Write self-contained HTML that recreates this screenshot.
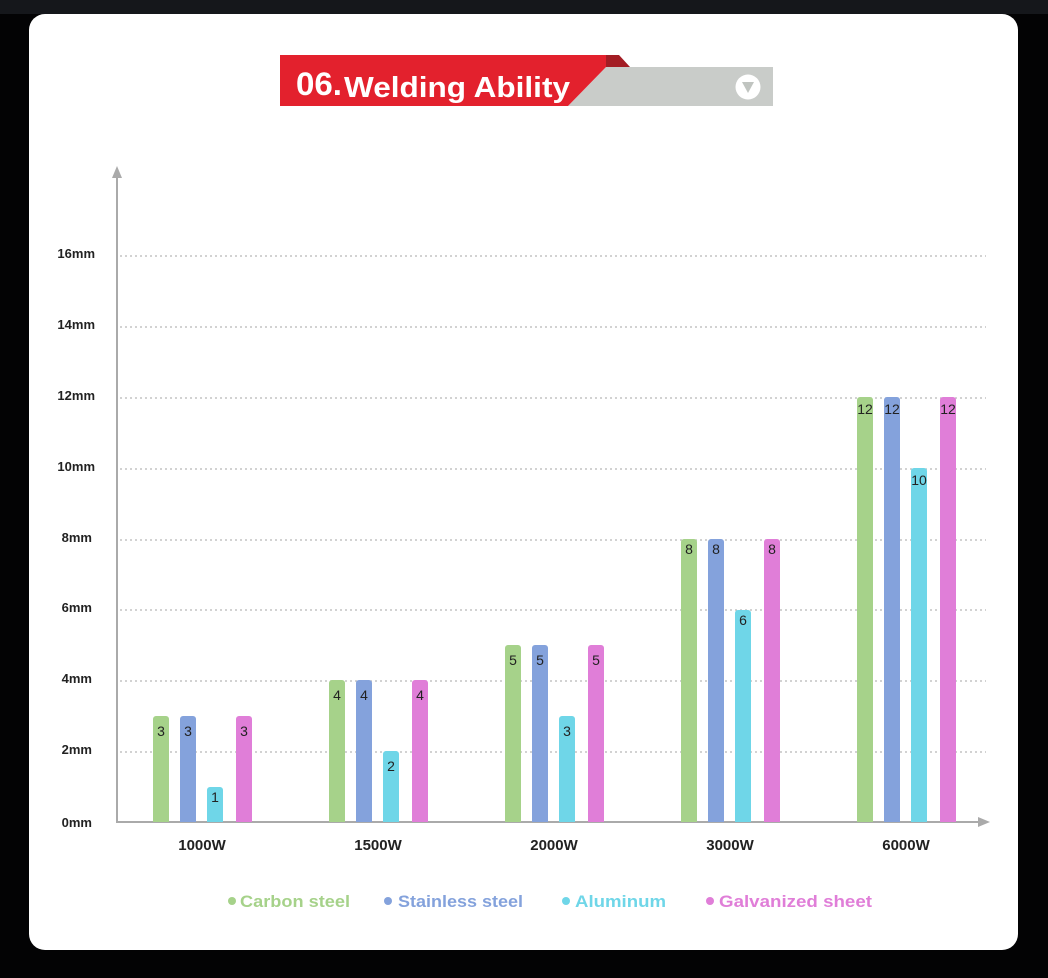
<!DOCTYPE html>
<html><head><meta charset="utf-8"><style>
html,body{margin:0;padding:0;background:#000;width:1048px;height:978px;overflow:hidden}
svg{display:block}
</style></head><body>
<svg width="1048" height="978" xmlns="http://www.w3.org/2000/svg" font-family="Liberation Sans, sans-serif">
<rect x="0" y="0" width="1048" height="978" fill="#030304"/>
<rect x="0" y="0" width="1048" height="14" fill="#15171b"/>
<rect x="29" y="14" width="989" height="936" rx="16" fill="#fff"/>
<!-- header -->
<polygon points="606,67 773,67 773,106 568,106" fill="#c9ccc9"/>
<polygon points="280,55 619,55 606,67 568,106 280,106" fill="#e3212d"/>
<polygon points="606,55 619,55 630,67 606,67" fill="#a31d24"/>
<text x="296" y="95" font-size="32" font-weight="bold" fill="#fff" textLength="46" lengthAdjust="spacingAndGlyphs">06.</text>
<text x="344" y="97" font-size="29" font-weight="bold" fill="#fff" textLength="226" lengthAdjust="spacingAndGlyphs">Welding Ability</text>
<circle cx="748" cy="87" r="12.5" fill="#fff"/>
<polygon points="742,82 754,82 748,93" fill="#c0c4c0"/>
<!-- grid -->
<g stroke="#b8b8b8" stroke-width="1.2" stroke-dasharray="2,3">
<line x1="120" y1="256" x2="986" y2="256"/>
<line x1="120" y1="327" x2="986" y2="327"/>
<line x1="120" y1="398" x2="986" y2="398"/>
<line x1="120" y1="469" x2="986" y2="469"/>
<line x1="120" y1="540" x2="986" y2="540"/>
<line x1="120" y1="610" x2="986" y2="610"/>
<line x1="120" y1="681" x2="986" y2="681"/>
<line x1="120" y1="752" x2="986" y2="752"/>
</g>
<g font-size="13" font-weight="bold" fill="#222" text-anchor="end">
<text x="95" y="258">16mm</text>
<text x="95" y="329">14mm</text>
<text x="95" y="400">12mm</text>
<text x="95" y="471">10mm</text>
<text x="92" y="542">8mm</text>
<text x="92" y="612">6mm</text>
<text x="92" y="683">4mm</text>
<text x="92" y="754">2mm</text>
<text x="92" y="827">0mm</text>
</g>
<!-- axes -->
<line x1="117" y1="175" x2="117" y2="823" stroke="#aaa" stroke-width="2"/>
<polygon points="117,166 112,178 122,178" fill="#aaa"/>
<line x1="116" y1="822" x2="980" y2="822" stroke="#aaa" stroke-width="2"/>
<polygon points="990,822 978,817 978,827" fill="#aaa"/>
<!-- bars -->
<g>
<path d="M153,822V719a3,3 0 0 1 3,-3h10a3,3 0 0 1 3,3V822Z" fill="#a6d28a"/>
<path d="M180,822V719a3,3 0 0 1 3,-3h10a3,3 0 0 1 3,3V822Z" fill="#84a2dc"/>
<path d="M207,822V790a3,3 0 0 1 3,-3h10a3,3 0 0 1 3,3V822Z" fill="#6fd6e8"/>
<path d="M236,822V719a3,3 0 0 1 3,-3h10a3,3 0 0 1 3,3V822Z" fill="#e07ed8"/>

<path d="M329,822V683a3,3 0 0 1 3,-3h10a3,3 0 0 1 3,3V822Z" fill="#a6d28a"/>
<path d="M356,822V683a3,3 0 0 1 3,-3h10a3,3 0 0 1 3,3V822Z" fill="#84a2dc"/>
<path d="M383,822V754a3,3 0 0 1 3,-3h10a3,3 0 0 1 3,3V822Z" fill="#6fd6e8"/>
<path d="M412,822V683a3,3 0 0 1 3,-3h10a3,3 0 0 1 3,3V822Z" fill="#e07ed8"/>

<path d="M505,822V648a3,3 0 0 1 3,-3h10a3,3 0 0 1 3,3V822Z" fill="#a6d28a"/>
<path d="M532,822V648a3,3 0 0 1 3,-3h10a3,3 0 0 1 3,3V822Z" fill="#84a2dc"/>
<path d="M559,822V719a3,3 0 0 1 3,-3h10a3,3 0 0 1 3,3V822Z" fill="#6fd6e8"/>
<path d="M588,822V648a3,3 0 0 1 3,-3h10a3,3 0 0 1 3,3V822Z" fill="#e07ed8"/>

<path d="M681,822V542a3,3 0 0 1 3,-3h10a3,3 0 0 1 3,3V822Z" fill="#a6d28a"/>
<path d="M708,822V542a3,3 0 0 1 3,-3h10a3,3 0 0 1 3,3V822Z" fill="#84a2dc"/>
<path d="M735,822V613a3,3 0 0 1 3,-3h10a3,3 0 0 1 3,3V822Z" fill="#6fd6e8"/>
<path d="M764,822V542a3,3 0 0 1 3,-3h10a3,3 0 0 1 3,3V822Z" fill="#e07ed8"/>

<path d="M857,822V400a3,3 0 0 1 3,-3h10a3,3 0 0 1 3,3V822Z" fill="#a6d28a"/>
<path d="M884,822V400a3,3 0 0 1 3,-3h10a3,3 0 0 1 3,3V822Z" fill="#84a2dc"/>
<path d="M911,822V471a3,3 0 0 1 3,-3h10a3,3 0 0 1 3,3V822Z" fill="#6fd6e8"/>
<path d="M940,822V400a3,3 0 0 1 3,-3h10a3,3 0 0 1 3,3V822Z" fill="#e07ed8"/>
</g>
<g font-size="14" fill="#222" text-anchor="middle">
<text x="161" y="736">3</text><text x="188" y="736">3</text><text x="215" y="802">1</text><text x="244" y="736">3</text>
<text x="337" y="700">4</text><text x="364" y="700">4</text><text x="391" y="771">2</text><text x="420" y="700">4</text>
<text x="513" y="665">5</text><text x="540" y="665">5</text><text x="567" y="736">3</text><text x="596" y="665">5</text>
<text x="689" y="554">8</text><text x="716" y="554">8</text><text x="743" y="625">6</text><text x="772" y="554">8</text>
<text x="865" y="414">12</text><text x="892" y="414">12</text><text x="919" y="485">10</text><text x="948" y="414">12</text>
</g>
<g font-size="15" font-weight="bold" fill="#222" text-anchor="middle">
<text x="202" y="850">1000W</text>
<text x="378" y="850">1500W</text>
<text x="554" y="850">2000W</text>
<text x="730" y="850">3000W</text>
<text x="906" y="850">6000W</text>
</g>
<!-- legend -->
<g font-size="17" font-weight="bold" lengthAdjust="spacingAndGlyphs">
<circle cx="232" cy="901" r="4" fill="#a6d28a"/><text x="240" y="907" fill="#a6d28a" textLength="110" lengthAdjust="spacingAndGlyphs">Carbon steel</text>
<circle cx="388" cy="901" r="4" fill="#84a2dc"/><text x="398" y="907" fill="#84a2dc" textLength="125" lengthAdjust="spacingAndGlyphs">Stainless steel</text>
<circle cx="566" cy="901" r="4" fill="#6fd6e8"/><text x="575" y="907" fill="#6fd6e8" textLength="91" lengthAdjust="spacingAndGlyphs">Aluminum</text>
<circle cx="710" cy="901" r="4" fill="#e07ed8"/><text x="719" y="907" fill="#e07ed8" textLength="153" lengthAdjust="spacingAndGlyphs">Galvanized sheet</text>
</g>
</svg>
</body></html>
